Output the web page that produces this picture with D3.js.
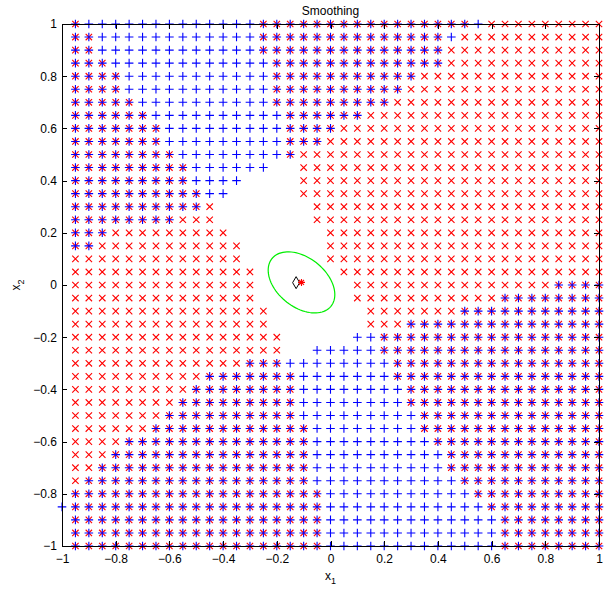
<!DOCTYPE html>
<html lang="en">
<head>
	<meta charset="utf-8">
	<title>Smoothing</title>
	<script src="https://d3js.org/d3.v7.min.js" charset="utf-8"></script>

	<style>
		body {
			margin: 0;
			background: #fff;
			font-family: "Liberation Sans", Arial, Helvetica, sans-serif;
		}
		.axis text {
			font-size: 12px;
			fill: #000;
		}
		.axis path,
		.axis line {
			stroke: #000;
			shape-rendering: crispEdges;
		}
		.plus {
			fill: none;
			stroke: #0000ff;
			stroke-width: 1.1;
		}
		.cross {
			fill: none;
			stroke: #ff0000;
			stroke-width: 1.1;
		}
		.title, .label {
			font-size: 12px;
		}
	</style>
</head>

<body>
<script>

	// grid the classifier was evaluated on
	var gridX = [-1, -0.95, -0.9, -0.85, -0.8, -0.75, -0.7, -0.65, -0.6, -0.55, -0.5, -0.45, -0.4, -0.35, -0.3, -0.25, -0.2, -0.15, -0.1, -0.05,
		0, 0.05, 0.1, 0.15, 0.2, 0.25, 0.3, 0.35, 0.4, 0.45, 0.5, 0.55, 0.6, 0.65, 0.7, 0.75, 0.8, 0.85, 0.9, 0.95, 1];
	var gridY = [1, 0.95, 0.9, 0.85, 0.8, 0.75, 0.7, 0.65, 0.6, 0.55, 0.5, 0.45, 0.4, 0.35, 0.3, 0.25, 0.2, 0.15, 0.1, 0.05,
		0, -0.05, -0.1, -0.15, -0.2, -0.25, -0.3, -0.35, -0.4, -0.45, -0.5, -0.55, -0.6, -0.65, -0.7, -0.75, -0.8, -0.85, -0.9, -0.95, -1];

	// one run-length string per row of gridY, left to right along gridX
	// "+" blue only, "x" red only, "*" both, "." nothing
	var classRows = [
		"1.1*13+16*1+9x",
		"1.2*12+14*1+11x",
		"1.2*12+14*12x",
		"1.3*12+13*12x",
		"1.4*11+11*14x",
		"1.4*11+10*15x",
		"1.5*10+9*16x",
		"1.6*10+6*18x",
		"1.7*9+4*20x",
		"1.7*9+3*21x",
		"1.8*8+1*23x",
		"1.9*6+2.23x",
		"1.9*4+4.23x",
		"1.10*2+5.23x",
		"1.10*1x7.22x",
		"1.8*3x7.22x",
		"1.3*9x7.21x",
		"1.2*11x6.21x",
		"1.13x6.21x",
		"1.14x6.20x",
		"1.14x7.15x4*",
		"1.14x7.11x8*",
		"1.15x7.7x11*",
		"1.15x7.3x15*",
		"1.16x5.2+17*",
		"1.16x2.5+17*",
		"1.13x3*8+16*",
		"1.10x7*7+16*",
		"1.9x8*8+15*",
		"1.8x9*8+15*",
		"1.7x10*9+14*",
		"1.6x12*8+14*",
		"1.4x14*9+13*",
		"1.3x15*10+12*",
		"1.2x16*10+12*",
		"1.1x17*11+11*",
		"1.19*11+10*",
		"1+19*12+9*",
		"1.19*13+8*",
		"1.19*13+8*",
		"1.19*13+8*"
	];

	var xTicks = [-1, -0.8, -0.6, -0.4, -0.2, 0, 0.2, 0.4, 0.6, 0.8, 1];
	var yTicks = [-1, -0.8, -0.6, -0.4, -0.2, 0, 0.2, 0.4, 0.6, 0.8, 1];

	// smoothing kernel: mean, covariance, and the query point
	var kernelMean = [-0.108, 0.01];
	var kernelCov = [[0.0154, -0.0058], [-0.0058, 0.0137]];
	var queryPoint = [-0.128, 0.009];


	var width = 613,
		height = 593;
	var plot = {left: 62, right: 599, top: 24, bottom: 546};

	var svg = d3.select("body")
		.append("svg")
		.attr("width", width)
		.attr("height", height);

	var x = d3.scaleLinear().domain([-1, 1]).range([plot.left, plot.right]);
	var y = d3.scaleLinear().domain([-1, 1]).range([plot.bottom, plot.top]);

	// unpack the rows into cells
	var cells = [];
	classRows.forEach(function(row, j) {
		var k = 0;
		row.replace(/(\d+)([.*+x])/g, function(m, n, c) {
			for (var i = 0; i < +n; i++, k++) {
				if (c !== ".") cells.push({x: gridX[k], y: gridY[j], c: c});
			}
			return m;
		});
	});

	var plusPath = "M-4.3,0H4.3M0,-4.3V4.3";
	var crossPath = "M-3.2,-3.2L3.2,3.2M-3.2,3.2L3.2,-3.2";

	var marks = svg.append("g");

	marks.selectAll(".cross")
		.data(cells.filter(function(d) { return d.c === "x" || d.c === "*"; }))
		.enter()
		.append("path")
		.attr("class", "cross")
		.attr("d", crossPath)
		.attr("transform", function(d) { return "translate(" + x(d.x) + "," + y(d.y) + ")"; });

	marks.selectAll(".plus")
		.data(cells.filter(function(d) { return d.c === "+" || d.c === "*"; }))
		.enter()
		.append("path")
		.attr("class", "plus")
		.attr("d", plusPath)
		.attr("transform", function(d) { return "translate(" + x(d.x) + "," + y(d.y) + ")"; });

	// kernel ellipse (one standard deviation)
	var l11 = Math.sqrt(kernelCov[0][0]),
		l21 = kernelCov[1][0] / l11,
		l22 = Math.sqrt(kernelCov[1][1] - l21 * l21);
	var ellipse = d3.range(0, 360, 4).map(function(a) {
		var t = a * Math.PI / 180;
		return [kernelMean[0] + l11 * Math.cos(t), kernelMean[1] + l21 * Math.cos(t) + l22 * Math.sin(t)];
	});

	svg.append("path")
		.datum(ellipse)
		.attr("fill", "none")
		.attr("stroke", "#00ee00")
		.attr("stroke-width", 1.2)
		.attr("d", d3.line()
			.x(function(d) { return x(d[0]); })
			.y(function(d) { return y(d[1]); })
			.curve(d3.curveLinearClosed));

	svg.append("path")
		.attr("fill", "none")
		.attr("stroke", "#000")
		.attr("d", "M0,-6L3.5,0L0,6L-3.5,0Z")
		.attr("transform", "translate(" + x(queryPoint[0]) + "," + y(queryPoint[1]) + ")");

	svg.append("path")
		.attr("class", "cross")
		.attr("d", "M-3.5,0H3.5M0,-3.5V3.5M-2.5,-2.5L2.5,2.5M-2.5,2.5L2.5,-2.5")
		.attr("transform", "translate(" + x(kernelMean[0]) + "," + y(kernelMean[1]) + ")");

	// axes, ticks pointing in like matlab
	var fmt = d3.format("");

	svg.append("g")
		.attr("class", "axis")
		.attr("transform", "translate(0," + plot.bottom + ")")
		.call(d3.axisBottom(x).tickValues(xTicks).tickFormat(fmt).tickSizeInner(-5).tickSizeOuter(0).tickPadding(8));

	svg.append("g")
		.attr("class", "axis")
		.attr("transform", "translate(0," + plot.top + ")")
		.call(d3.axisTop(x).tickValues(xTicks).tickFormat("").tickSizeInner(-5).tickSizeOuter(0));

	svg.append("g")
		.attr("class", "axis")
		.attr("transform", "translate(" + plot.left + ",0)")
		.call(d3.axisLeft(y).tickValues(yTicks).tickFormat(fmt).tickSizeInner(-5).tickSizeOuter(0).tickPadding(5));

	svg.append("g")
		.attr("class", "axis")
		.attr("transform", "translate(" + plot.right + ",0)")
		.call(d3.axisRight(y).tickValues(yTicks).tickFormat("").tickSizeInner(-5).tickSizeOuter(0));

	svg.append("text")
		.attr("class", "title")
		.attr("x", (plot.left + plot.right) / 2)
		.attr("y", 15)
		.attr("text-anchor", "middle")
		.text("Smoothing");

	var xl = svg.append("text")
		.attr("class", "label")
		.attr("x", (plot.left + plot.right) / 2)
		.attr("y", 580)
		.attr("text-anchor", "middle");
	xl.append("tspan").text("x");
	xl.append("tspan").attr("dy", 4).attr("font-size", "9px").text("1");

	var yl = svg.append("text")
		.attr("class", "label")
		.attr("transform", "translate(20," + y(0) + ") rotate(-90)")
		.attr("text-anchor", "middle");
	yl.append("tspan").text("x");
	yl.append("tspan").attr("dy", 4).attr("font-size", "9px").text("2");

</script>
</body>
</html>
